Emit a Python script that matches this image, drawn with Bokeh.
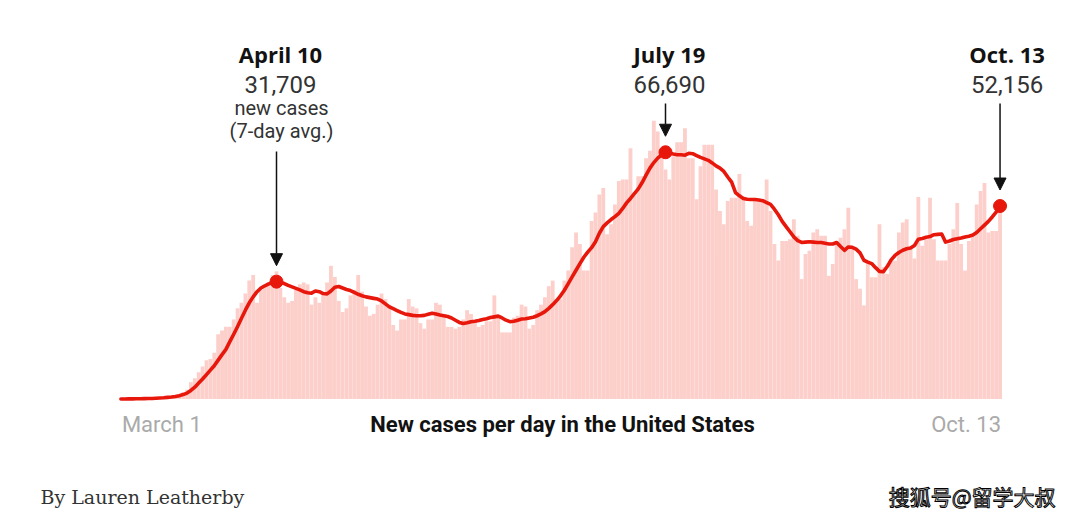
from bokeh.plotting import figure
from bokeh.models import Label, Arrow, NormalHead, Range1d, ColumnDataSource
from bokeh.embed import file_html
from bokeh.resources import INLINE

# ---------------- data (thousands of cases, day 0 = March 1, 2020) ----------------
daily_k = [
    0.01, 0.01, 0.02, 0.03, 0.04, 0.07, 0.08,
    0.1, 0.15, 0.2, 0.3, 0.45, 0.5, 0.7,
    0.9, 1.3, 1.8, 2.5, 4.5, 5.6, 7.2,
    8.8, 10.5, 10.8, 12.5, 17.5, 18.5, 19.5,
    19.5, 21.5, 24.5, 26.0, 28.5, 32.0, 33.5,
    26.0, 29.5, 30.5, 31.5, 33.5, 34.5, 30.0,
    27.5, 26.0, 26.5, 29.5, 31.0, 31.5, 31.0,
    25.5, 27.5, 26.0, 28.5, 31.5, 36.0, 33.0,
    26.5, 23.5, 24.5, 28.0, 29.5, 33.5, 29.0,
    25.0, 22.5, 23.0, 25.5, 28.5, 27.0, 25.5,
    20.0, 18.5, 21.5, 21.5, 27.0, 25.0, 24.5,
    20.5, 19.0, 21.5, 21.5, 26.0, 25.5, 23.0,
    19.5, 19.5, 19.0, 19.5, 21.5, 24.0, 23.0,
    21.0, 19.5, 20.0, 21.0, 21.0, 28.0, 22.5,
    18.0, 18.0, 18.0, 22.0, 22.5, 25.5, 25.0,
    19.0, 20.0, 24.0, 25.5, 27.5, 30.5, 32.0,
    26.5, 27.0, 32.0, 34.7, 41.0, 45.0, 41.9,
    34.7, 34.7, 48.1, 50.4, 55.3, 57.0, 44.5,
    47.2, 52.6, 58.9, 59.3, 59.3, 67.8, 55.0,
    60.2, 60.2, 65.1, 67.1, 75.2, 72.3, 66.0,
    62.0, 59.3, 65.6, 69.4, 69.4, 73.2, 65.1,
    65.1, 54.0, 62.9, 68.7, 68.7, 68.7, 56.6,
    50.8, 47.2, 53.5, 54.4, 54.4, 60.8, 54.8,
    48.1, 46.8, 53.5, 53.5, 53.5, 59.3, 50.8,
    41.9, 37.4, 42.7, 42.7, 43.2, 48.6, 44.1,
    32.4, 39.2, 40.1, 45.0, 45.9, 44.1, 44.1,
    33.3, 36.5, 42.7, 43.6, 45.9, 51.7, 40.9,
    32.4, 29.8, 25.3, 37.4, 32.9, 32.9, 47.2,
    35.6, 33.8, 37.4, 37.4, 45.0, 47.7, 48.6,
    40.5, 38.0, 54.6, 41.4, 43.2, 54.4, 43.2,
    37.4, 37.4, 37.4, 41.9, 45.9, 53.0, 41.9,
    34.7, 42.7, 44.1, 52.6, 56.2, 58.4, 45.0,
    45.4, 45.4, 51.7,
]

avg_k = [
    0.01, 0.02, 0.03, 0.04, 0.05, 0.07, 0.09,
    0.12, 0.15, 0.2, 0.26, 0.33, 0.43, 0.55,
    0.7, 0.9, 1.2, 1.6, 2.3, 3.2, 4.3,
    5.4, 6.6, 7.8, 9.0, 10.5, 12.0, 13.4,
    15.5, 17.5, 19.6, 21.8, 24.0, 26.0, 27.6,
    29.0, 30.0, 30.6, 31.1, 31.5, 31.709, 31.5,
    31.2, 30.7, 30.3, 29.9, 29.5, 29.0, 28.7,
    28.6, 29.2, 29.0, 28.5, 28.4, 29.2, 30.2,
    30.4, 30.0, 29.6, 29.3, 28.8, 28.3, 27.9,
    27.6, 27.4, 27.2, 27.0, 26.5, 25.7, 24.9,
    24.4, 23.9, 23.4, 23.0, 22.8, 22.6, 22.5,
    22.5, 22.6, 22.9, 23.2, 23.0, 22.7, 22.5,
    22.3, 21.9, 21.3, 20.7, 20.4, 20.6, 20.9,
    21.0, 21.2, 21.5, 21.7, 22.0, 22.2, 22.4,
    21.9, 21.3, 20.9, 21.0, 21.3, 21.6, 21.7,
    21.9, 22.1, 22.5, 23.0, 23.6, 24.5, 25.5,
    26.6, 27.9, 29.4, 31.2, 33.0, 34.8, 36.6,
    38.3, 39.7, 40.9, 42.5, 44.8, 46.6, 47.6,
    48.5, 49.3, 50.2, 51.5, 53.0, 54.2, 55.5,
    56.8, 58.5, 60.5, 62.4, 63.9, 65.1, 66.0,
    66.69, 66.5, 66.2, 66.0, 66.0, 65.9, 66.4,
    66.3, 65.8, 65.3, 64.9, 64.5, 63.8, 63.0,
    62.4, 61.5, 60.0, 58.6, 55.8, 54.9, 54.2,
    54.0, 53.9, 53.9, 53.8, 53.6, 53.1, 52.6,
    51.3, 49.8, 48.0, 46.6, 45.2, 43.8, 42.8,
    42.3, 42.4, 42.5, 42.4, 42.3, 42.3, 42.1,
    41.9, 41.9, 42.3, 41.2, 40.2, 41.1, 41.0,
    40.5, 39.5, 37.5, 37.0, 36.6, 35.5, 34.5,
    34.4, 35.8, 37.6, 38.8, 39.6, 40.2, 40.6,
    40.8, 41.5, 43.2, 43.4, 43.7, 43.9, 44.4,
    44.5, 44.6, 42.4, 42.7, 43.1, 43.3, 43.5,
    43.8, 44.0, 44.3, 45.0, 46.0, 47.0, 48.0,
    49.2, 50.5, 52.156,
]

highlight_dates = ["April 10", "July 19", "Oct. 13"]
highlight_days = [40, 140, 226]
highlight_values = [31709, 66690, 52156]
axis_labels = ["March 1", "Oct. 13"]
title_text = "New cases per day in the United States"
byline = "By Lauren Leatherby"
watermark = "搜狐号@留学大叔"

assert len(daily_k) == len(avg_k) == 227
days = list(range(len(daily_k)))

# ---------------- layout ----------------
W, H = 1064, 511
X0 = 120.4          # screen x of day 0
PX_DAY = 3.89       # px per day
BASE = 112.5        # screen y (from bottom) of zero
PX_K = 3.70         # px per thousand cases
LBL_DY = 9          # correction for label baseline placement

RED = "#e8170c"
BAR = "#fccfca"

p = figure(width=W, height=H, output_backend="svg", toolbar_location=None,
           x_axis_type=None, y_axis_type=None, min_border=0,
           x_range=Range1d(-X0 / PX_DAY, (W - X0) / PX_DAY),
           y_range=Range1d(-BASE / PX_K, (H - BASE) / PX_K))
p.outline_line_color = None
p.grid.visible = False
p.background_fill_color = "white"
p.border_fill_color = "white"

src = ColumnDataSource(dict(day=days, daily=daily_k, avg=avg_k))
p.vbar(x="day", top="daily", width=0.98, bottom=0, source=src,
       fill_color=BAR, line_color=None)
p.line(x="day", y="avg", source=src, line_color=RED, line_width=3.6,
       line_join="round", line_cap="round")

hv_k = [v / 1000 for v in highlight_values]
p.scatter(x=highlight_days, y=hv_k, size=13, fill_color=RED, line_color=RED)


def sx(d):
    return X0 + PX_DAY * d


def sy(v_k):
    return BASE + PX_K * v_k


FONT = "Roboto"

def add_label(x, page_baseline, text, size, style="normal", color="#121212",
              align="center", font=FONT, **kw):
    p.add_layout(Label(x=x, y=H - page_baseline + LBL_DY,
                       x_units="screen", y_units="screen", text=text,
                       text_font=font, text_font_size=size, text_font_style=style,
                       text_color=color, text_align=align,
                       text_baseline="alphabetic", **kw))

# annotation blocks
label_dx = [4, 4, 7]
arrow_top = [360, 408, 408]
for i, (d, name, v) in enumerate(zip(highlight_days, highlight_dates, highlight_values)):
    cx = sx(d) + label_dx[i]
    add_label(cx, 62, name, "22px", style="bold", font="Open Sans")
    add_label(cx, 93, f"{v:,}", "24px", color="#333333")
    tip = sy(v / 1000) + 16
    p.add_layout(Arrow(end=NormalHead(size=12, fill_color="#111111", line_color="#111111",
                                      line_width=1),
                       x_start=sx(d), y_start=arrow_top[i], x_end=sx(d), y_end=tip,
                       start_units="screen", end_units="screen",
                       line_color="#111111", line_width=1.5))

add_label(sx(40) + 5, 116, "new cases", "20px", color="#333333")
add_label(sx(40) + 5, 139, "(7-day avg.)", "20px", color="#333333")

# bottom labels
add_label(sx(0) + 1, 433, axis_labels[0], "22px", color="#aaaaaa", align="left")
add_label(sx(226) + 1, 433, axis_labels[1], "22px", color="#aaaaaa", align="right")
add_label(562, 433, title_text, "22px", style="bold", color="#121212")

add_label(40, 505, byline, "19px", color="#333333", align="left", font="DejaVu Serif")
add_label(1055, 504, watermark, "21px", color="white", align="right",
          font="Noto Sans CJK SC", text_outline_color="black")

open("out.html", "w").write(file_html(p, INLINE))
